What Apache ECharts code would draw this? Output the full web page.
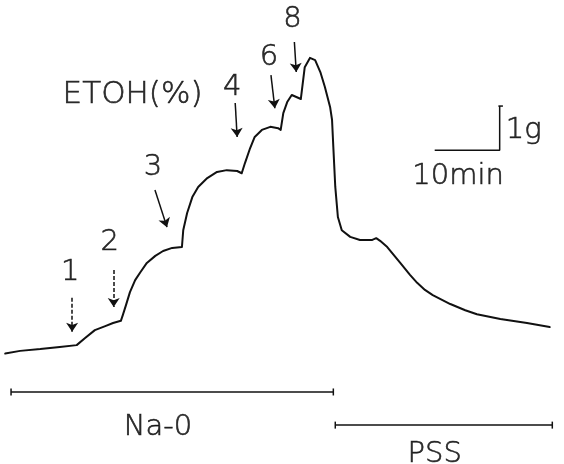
<!DOCTYPE html>
<html>
<head>
<meta charset="utf-8">
<script src="https://cdn.jsdelivr.net/npm/echarts@6/dist/echarts.min.js"></script>
<style>
  html, body { margin: 0; padding: 0; background: #fff; }
  #chart { width: 564px; height: 464px; }
</style>
</head>
<body>
<div id="chart"></div>
<script>
// tension trace (time in min, tension in g above start)
var traceTime = [0.0, 2.3, 5.4, 8.4, 11.0, 12.3, 13.8, 15.4, 16.6, 17.8, 18.1, 18.6, 19.2, 20.0, 20.8, 21.8, 23.1, 24.3, 25.7, 27.2,
  27.4, 28.0, 28.8, 29.7, 31.1, 32.6, 34.1, 35.7, 36.4, 36.9, 37.7, 38.4, 39.5, 40.8, 42.0, 42.4, 42.8, 43.4, 44.1, 44.9,
  45.5, 46.1, 46.9, 47.7, 48.5, 49.2, 50.0, 50.3, 50.5, 50.8, 51.2, 51.8, 53.1, 54.6, 56.5, 57.1, 57.7, 58.8, 60.8, 62.3,
  63.4, 64.6, 65.8, 68.5, 70.8, 72.6, 76.2, 80.3, 83.8];
var traceTension = [0.00, 0.06, 0.10, 0.15, 0.19, 0.35, 0.53, 0.62, 0.69, 0.74, 0.87, 1.10, 1.39, 1.66, 1.84, 2.05, 2.21, 2.32, 2.39, 2.41,
  2.79, 3.18, 3.54, 3.77, 3.97, 4.11, 4.15, 4.13, 4.08, 4.31, 4.65, 4.90, 5.06, 5.13, 5.10, 5.06, 5.44, 5.69, 5.85, 5.80,
  5.76, 6.48, 6.69, 6.64, 6.37, 6.03, 5.58, 5.29, 4.67, 3.77, 3.09, 2.79, 2.64, 2.57, 2.57, 2.61, 2.55, 2.41, 2.05, 1.78,
  1.60, 1.44, 1.32, 1.12, 0.98, 0.89, 0.78, 0.69, 0.60];

// ethanol additions (%): arrow tip time / level
var doseLabels = ['1', '2', '3', '4', '6', '8'];
var doseTime = [10.3, 16.7, 24.9, 35.7, 41.5, 44.8];
var doseTip = [0.49, 1.05, 2.86, 4.90, 5.55, 6.37];

// solution periods (min)
var periodNames = ['Na-0', 'PSS'];
var periodStart = [0.9, 50.8];
var periodEnd = [50.5, 84.2];

// scale bar: 10 min, 1 g
var scaleMin = 10;
var scaleG = 1;

var chart = echarts.init(document.getElementById('chart'));
var FONT = 'DejaVu Sans';

var trace = traceTime.map(function (t, i) { return [t, traceTension[i]]; });

// arrow shafts: tails sit above / left of tips
var tailShift = [[0, 0.77], [0, 0.84], [-1.85, 0.84], [-0.3, 0.77], [-0.6, 0.75], [-0.3, 0.68]];
var labelShift = [[-0.3, 1.35], [-0.6, 1.47], [-2.15, 1.34], [-0.75, 1.13], [-0.9, 1.16], [-0.6, 1.18]];
var arrowData = doseTime.map(function (t, i) {
  return {
    coords: [[t + tailShift[i][0], doseTip[i] + tailShift[i][1]], [t, doseTip[i]]],
    lineStyle: { type: i < 2 ? [4, 2] : 'solid' }
  };
});
var doseTextData = doseTime.map(function (t, i) {
  return { value: [t + labelShift[i][0], doseTip[i] + labelShift[i][1]], name: doseLabels[i] };
});

var periodLevel = [-0.87, -1.62];
var periodSeries = periodNames.map(function (n, i) {
  return {
    type: 'line',
    data: [[periodStart[i], periodLevel[i]], [periodEnd[i], periodLevel[i]]],
    symbol: 'rect',
    symbolSize: [1.5, 7],
    itemStyle: { color: '#111' },
    lineStyle: { color: '#111', width: 1.5 },
    silent: true
  };
});

var sbX = 66.1, sbY = 4.6;

var textStyle = {
  show: true, position: 'inside', formatter: '{b}',
  color: '#000', fontFamily: FONT, fontWeight: 'lighter', fontSize: 29,
  textBorderColor: '#000', textBorderWidth: 0.6
};

var textData = [
  { value: [19.6, 5.86], name: 'ETOH(%)', label: { fontSize: 31 } },
  { value: [23.5, -1.67], name: 'Na-0' },
  { value: [66.1, -2.28], name: 'PSS' },
  { value: [sbX + 3.6, sbY - 0.6], name: '10min' },
  { value: [sbX + scaleMin + 3.7, sbY + 0.45], name: '1g' }
];

var option = {
  animation: false,
  backgroundColor: '#fff',
  grid: { left: 0, right: 0, top: 0, bottom: 0 },
  xAxis: { type: 'value', min: -0.8, max: 86, show: false },
  yAxis: { type: 'value', min: -2.5, max: 8, show: false },
  series: [
    {
      type: 'line',
      data: trace,
      symbol: 'none',
      smooth: false,
      lineStyle: { color: '#111', width: 2, join: 'round', cap: 'round' },
      silent: true
    },
    {
      type: 'lines',
      coordinateSystem: 'cartesian2d',
      data: arrowData,
      symbol: ['none', 'arrow'],
      symbolSize: [0, 9],
      lineStyle: { color: '#111', width: 1.5, opacity: 1 },
      silent: true
    },
    {
      type: 'scatter',
      data: doseTextData,
      symbolSize: 0,
      label: textStyle,
      silent: true
    },
    {
      type: 'scatter',
      data: textData,
      symbolSize: 0,
      label: textStyle,
      silent: true
    },
    {
      type: 'line',
      data: [[sbX, sbY], [sbX + scaleMin, sbY], [sbX + scaleMin, sbY + scaleG]],
      symbol: 'none',
      lineStyle: { color: '#111', width: 1.5 },
      silent: true
    },
    {
      type: 'line',
      data: [[sbX + scaleMin - 0.2, sbY + scaleG], [sbX + scaleMin + 0.5, sbY + scaleG]],
      symbol: 'none',
      lineStyle: { color: '#111', width: 1.5 },
      silent: true
    }
  ].concat(periodSeries)
};

chart.setOption(option);
</script>
</body>
</html>
